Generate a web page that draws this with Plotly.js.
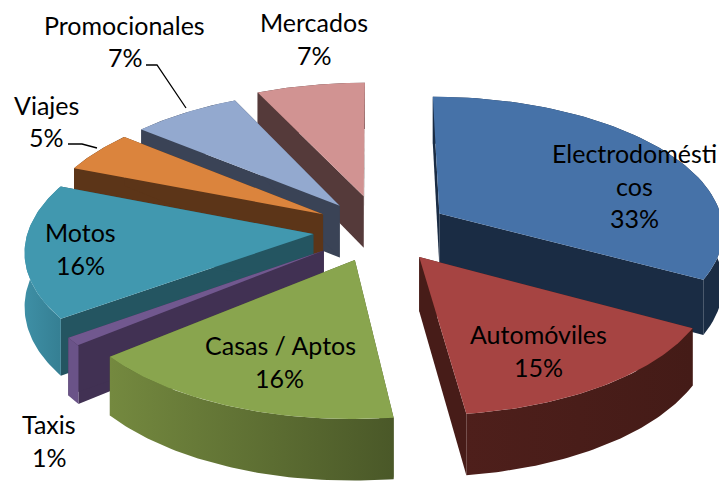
<!DOCTYPE html>
<html><head><meta charset="utf-8">
<script src="https://cdn.plot.ly/plotly-3.0.1.min.js"></script>
<style>html,body{margin:0;padding:0;background:#fff}#c{width:719px;height:481px}</style>
</head><body><div id="c"></div>
<script>
// Data
var categories = ["Electrodomésticos","Automóviles","Casas / Aptos","Taxis","Motos","Viajes","Promocionales","Mercados"];
var shares = [33,15,16,1,16,5,7,7];
// Styling per slice
var pulls = [70,68,67,70,67,67,67,76];
var topColors = ["#4672A8","#A64442","#89A54E","#71588F","#4198AF","#DB843D","#93A9CF","#D19392"];
var radialColors = ["#1A2C44","#471C18","#4A5828","#413153","#245561","#5C3518","#3A4356","#553A3A"];
var outerFrom = ["#1A2C44","#4E1F1B","#74893F","#6A5388","#3E8FA5","#5C3518","#3A4356","#553A3A"];
var outerTo = ["#1A2C44","#441B17","#4A5828","#6A5388","#357F93","#5C3518","#3A4356","#553A3A"];
var drawOrder = [7,0,6,5,4,3,2,1];
// Labels: [lines, x, y]
var labelLines = [
 ["Electrodomésti",634,153],["cos",634,186],["33%",634,218],
 ["Automóviles",538,334],["15%",538,367],
 ["Casas / Aptos",280,345],["16%",279,378],
 ["Taxis",49,424],["1%",49,457],
 ["Motos",80,232],["16%",80,265],
 ["Viajes",46,105],["5%",46,137],
 ["Promocionales",124,25],["7%",125,57],
 ["Mercados",314,22],["7%",314,55]
];
var leaderX = [[146,157,186],[68,82,97]];
var leaderY = [[65,65,108],[144,144,148]];

// Camera (perspective projection of a tilted pie)
var D=2500, H=1172, hz=-942, vx=375, cx=380, R=285, depth=53;
function proj(X,Y,z){var p=D/(D-Y);return [vx+(X+cx-vx)*p, hz+(H+z)*p];}
function rad(a){return a*Math.PI/180;}
function pt(s,a,r,z){
  var X=s.ox+r*Math.sin(rad(a)),Y=s.oy-r*Math.cos(rad(a));
  return proj(X,Y,z);
}
var traces=[];
function poly(pts,color,grad){
  var t={x:pts.map(function(p){return p[0]}),y:pts.map(function(p){return p[1]}),
    mode:'lines',fill:'toself',line:{width:0,color:color},fillcolor:color,hoverinfo:'skip',showlegend:false};
  if(grad){t.fillgradient={type:'horizontal',colorscale:[[0,grad[0]],[1,grad[1]]]};}
  traces.push(t);
}
var start=0,slices=[];
shares.forEach(function(v,i){
  var total=shares.reduce(function(a,b){return a+b},0);
  var a0=start,a1=start+v/total*360;start=a1;
  var mid=(a0+a1)/2;
  slices.push({a0:a0,a1:a1,ox:pulls[i]*Math.sin(rad(mid)),oy:-pulls[i]*Math.cos(rad(mid))});
});
drawOrder.forEach(function(i){
  var s=slices[i],n=60,topArc=[],botArc=[];
  for(var k=0;k<=n;k++){
    var a=s.a0+(s.a1-s.a0)*k/n;
    topArc.push(pt(s,a,R,0));botArc.push(pt(s,a,R,depth));
  }
  var c0=pt(s,0,0,0),c1=pt(s,0,0,depth);
  poly([c0,topArc[0],botArc[0],c1],radialColors[i]);
  poly([c0,topArc[n],botArc[n],c1],radialColors[i]);
  var g=topArc[0][0]<topArc[n][0]?[outerTo[i],outerFrom[i]]:[outerFrom[i],outerTo[i]];
  poly(topArc.concat(botArc.slice().reverse()),outerFrom[i],g);
  poly([c0].concat(topArc),topColors[i]);
});
leaderX.forEach(function(x,i){
  traces.push({x:x,y:leaderY[i],mode:'lines',line:{color:'#000',width:1.3},hoverinfo:'skip',showlegend:false});
});
var annotations=labelLines.map(function(l){
  return {x:l[1],y:l[2],xref:'x',yref:'y',text:l[0],showarrow:false,xanchor:'center',yanchor:'middle',
    font:{family:'Lato',size:25,color:'#000'}};
});
Plotly.newPlot('c',traces,{
  width:719,height:481,margin:{l:0,r:0,t:0,b:0},paper_bgcolor:'#fff',plot_bgcolor:'#fff',showlegend:false,hovermode:false,
  xaxis:{range:[0,719],visible:false,fixedrange:true},
  yaxis:{range:[481,0],visible:false,fixedrange:true},
  annotations:annotations
},{displayModeBar:false,staticPlot:true});
</script></body></html>
